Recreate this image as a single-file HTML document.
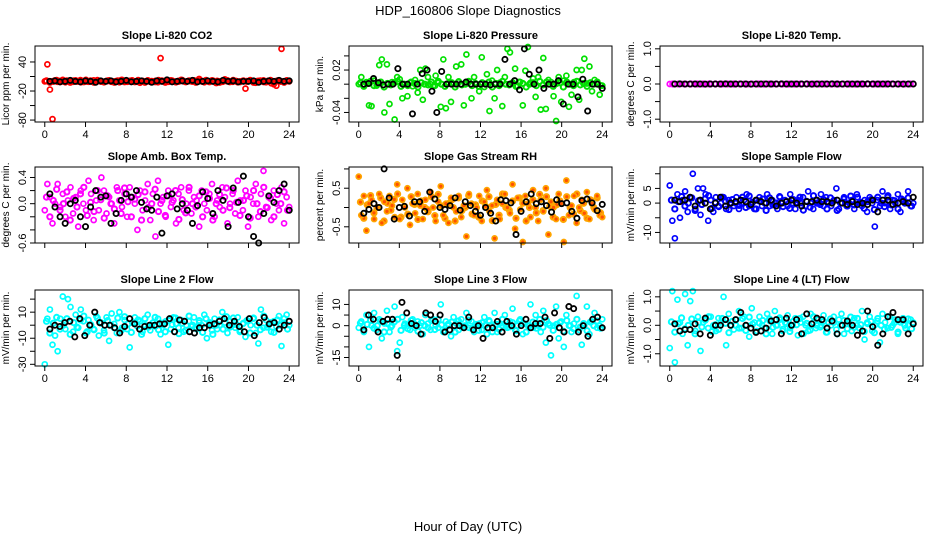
<!DOCTYPE html>
<html><head><meta charset="utf-8">
<style>
html,body{margin:0;padding:0;background:#fff;}
svg{display:block;font-family:"Liberation Sans",Arial,sans-serif;}
</style></head>
<body>
<svg id="chart" width="936" height="540" viewBox="0 0 936 540" xmlns="http://www.w3.org/2000/svg">
<rect width="936" height="540" fill="#fff"/>
<text x="468" y="15" text-anchor="middle" font-size="13">HDP_160806  Slope Diagnostics</text>
<text x="468" y="531" text-anchor="middle" font-size="13">Hour of Day (UTC)</text>
</svg>
<script>
const xTicks = [0,4,8,12,16,20,24];

const co2Red = [0,35,-17,-78,2,-1,1,3,-2,0,1,-1,2,0,-2,1,3,-1,0,2,-1,1,0,-2,1,2,-1,0,1,-2,3,0,-1,1,2,0,-1,-3,1,0,2,-1,0,1,-2,48,0,1,-1,2,0,-2,1,3,0,-1,1,0,2,-1,5,0,-2,1,0,2,-1,1,0,-1,4,2,0,-1,1,-2,0,1,-15,0,2,-1,-3,1,0,2,-2,1,-4,-6,-9,1,67,0,2,0];
const co2Band = [1,-2,0,2,-1,0,1,-2,1,0,2,-1,0,1,-2,2,0,-1,1,0,-2,1,2,-1,0,1,-1,2,0,-2,1,0,-1,2,1,-2,0,1,-1,0,2,-1,1,0,-2,1,0,2,-1,1,-3,-2,0,1,-1,2,0,-1,1,0,2,-2,0,1,-1,0,2,-1,1,0,-2,1];
const co2Black = [0,1,-1,0,2,0,-1,1,0,-2,1,0,1,-1,0,2,-1,0,1,0,-2,1,0,3,-1,0,1,0,2,-1,0,1,0,-1,2,0,1,-1,0,0,1,-2,0,1,0,2,0,1];

const presGreen = [0,0.01,-0.002,0.003,-0.03,-0.031,0.005,-0.002,0.027,0.035,-0.04,0.028,-0.028,0.003,-0.05,0.01,0.007,-0.02,0,-0.017,0.002,-0.003,0.006,-0.012,0.02,-0.022,0.022,0.01,0,-0.003,0.012,0.002,-0.032,0.035,-0.034,0.01,-0.025,0.0,0.025,0.004,0.028,-0.03,0.042,0.003,-0.02,0.01,0.0,-0.01,0.038,-0.004,0.014,-0.038,0.005,-0.02,0.02,0.002,-0.031,0.01,0.05,0.045,0.001,0.022,-0.003,0.003,-0.03,0.019,0.056,0.002,0.008,-0.018,0.01,-0.036,0.037,-0.035,0.006,0.003,-0.017,-0.062,0.01,-0.025,0.005,0.012,-0.032,-0.015,0.003,0.02,-0.022,0.02,0.036,0.001,0.025,-0.01,0.006,0.002,-0.015,-0.002];
const presBand = [0.002,-0.003,0.001,0.004,-0.002,0,0.003,-0.004,0.001,-0.001,0.002,0.004,-0.003,0,-0.002,0.003,0.001,-0.004,0.002,0,-0.001,0.003,-0.002,0.004,0,-0.003,0.001,0.002,-0.004,0.003,-0.001,0,0.004,-0.002,0.001,-0.003,0.002,0,0.003,-0.004,0.001,-0.002,0.004,0,-0.001,0.002,-0.003,0.003,0.001,-0.004,0,0.002,-0.002,0.004,-0.001,0.003,0,-0.003,0.001,0.002,-0.004,0.003,0,-0.002,0.004,-0.001,0.001,-0.003,0.002,0,0.003,-0.002];
const presBlack = [0,0.001,0.008,0.002,-0.001,0,0,0.022,0,0,-0.042,0.0,0.015,0.02,-0.01,-0.04,0.018,0.0,0,0.0,0,0.003,0,0.0,0,0.0,-0.001,0,0.0,0.035,0,0.005,-0.008,0.05,0.014,0,0.02,-0.006,0,0,0.005,-0.028,0.0,0,-0.018,0.007,-0.038,0.0,0,-0.006];

const tempMag = [0,0.005,-0.004,0.002,0,-0.003,0.004,0,0.002,-0.002,0,0.003,-0.001,0,0.002,-0.003,0,0.001,0.004,-0.002,0,0.002,-0.004,0,0.003,0,-0.002,0.001,0,0.004,-0.003,0,0.002,-0.001,0,0.003,-0.002,0,0.001,0.002,0,-0.004,0.003,0,-0.001,0.002,0,-0.003,0.004,0,0.001,-0.002,0,0.003,-0.001,0,0.002,-0.003,0,0.004];
const tempBand = [0,0.002,-0.002,0.001,0,-0.001,0.003,0,-0.002,0.001,0,0.002,-0.003,0,0.001,-0.001,0,0.002,0,-0.002,0.001,0,0.003,-0.001,0,0.002,-0.002,0,0.001,0,-0.003,0.002,0,-0.001,0.001,0,0.002,-0.002,0,0.001];
const tempBlack = [0,0.002,-0.001,0,0.001,0,-0.002,0,0.001,0,0.002,-0.001,0,0,0.001,-0.002,0,0.001,0,-0.001,0,0.002,0,-0.001,0,0.001,0,-0.002,0.001,0,0,0.002,-0.001,0,0.001,0,-0.001,0,0.002,0,-0.001,0,0.001,0,0,-0.002,0.001,0];

const ambMag = [-0.1,0.3,0.1,-0.3,0.0,0.3,-0.05,0.15,-0.2,0.05,0.25,-0.15,0.1,-0.35,0.2,0.0,-0.1,0.35,0.15,-0.25,0.05,-0.1,0.4,0.2,-0.15,0.1,0.0,-0.3,0.25,0.05,-0.05,0.15,-0.2,0.25,0.1,0.0,-0.4,0.2,-0.1,0.05,0.3,-0.25,0.15,-0.5,0.35,0.0,0.1,-0.2,0.2,-0.05,0.05,-0.3,0.15,0.25,-0.1,0.0,0.2,-0.15,0.1,0.05,-0.35,0.2,0.0,-0.1,0.15,0.3,-0.2,0.05,-0.05,0.25,0.1,-0.3,0.0,0.15,-0.15,0.35,0.05,-0.1,0.2,-0.35,0.1,0.0,0.3,-0.2,0.15,0.5,-0.05,0.1,-0.25,0.2,0.0,-0.1,0.25,-0.3,0.1,-0.05];
const ambBand = [0.1,-0.2,0.05,0.22,-0.1,0.0,0.18,-0.25,0.08,-0.05,0.15,0.25,-0.18,0.02,-0.12,0.2,0.06,-0.22,0.12,0.0,-0.08,0.2,-0.15,0.24,0.03,-0.2,0.07,0.14,-0.25,0.18,-0.06,0.0,0.22,-0.12,0.05,-0.18,0.12,0.02,0.2,-0.24,0.06,-0.14,0.25,0.0,-0.05,0.12,-0.2,0.18,0.08,-0.25,0.0,0.14,-0.1,0.24,-0.06,0.2,0.02,-0.18,0.05,0.12,-0.22,0.2,0.0,-0.12,0.25,-0.06,0.08,-0.2,0.14,0.0,0.18,-0.1];
const ambBlack = [0.15,-0.05,-0.2,-0.3,0.0,0.05,-0.2,-0.35,-0.05,0.2,0.1,0.12,-0.3,-0.15,0.05,0.15,0.1,0.2,0.02,-0.08,-0.1,0.1,-0.45,0.12,0.15,-0.08,0.0,-0.1,-0.3,-0.03,0.18,0.08,-0.15,0.2,0.05,-0.35,0.24,0.02,0.42,-0.2,-0.5,-0.6,-0.15,0.12,0.02,0.2,0.3,-0.1];

const rhOrange = [0.8,-0.2,0.3,-0.6,0.1,0.2,-0.3,0.0,0.35,-0.4,0.15,-0.1,0.3,0.05,-0.25,0.6,-0.3,0.2,0.0,0.5,-0.45,0.1,-0.15,0.35,0.05,-0.3,0.2,-0.05,0.4,0.0,-0.35,0.15,0.55,-0.2,0.1,-0.4,0.25,0.0,-0.1,0.3,-0.25,0.05,-0.75,0.35,0.1,-0.2,0.0,0.3,-0.35,0.15,0.45,-0.1,0.05,-0.8,0.2,-0.3,0.1,0.35,0.0,-0.15,0.6,-0.55,0.25,-0.05,-0.9,0.3,0.1,-0.25,0.45,0.0,-0.35,0.2,-0.1,0.5,-0.7,0.15,0.0,-0.3,0.35,0.1,-1.0,0.7,-0.2,0.05,0.3,-0.4,0.0,0.2,-0.15,0.4,-0.3,0.1,-0.05,0.3,-0.2,-0.25];
const rhBand = [0.14,-0.28,0.07,0.31,-0.14,0.0,0.25,-0.35,0.11,-0.07,0.21,0.35,-0.25,0.03,-0.17,0.28,0.08,-0.31,0.17,0.0,-0.11,0.28,-0.21,0.34,0.04,-0.28,0.1,0.2,-0.35,0.25,-0.08,0.0,0.31,-0.17,0.07,-0.25,0.17,0.03,0.28,-0.34,0.08,-0.2,0.35,0.0,-0.07,0.17,-0.28,0.25,0.11,-0.35,0.0,0.2,-0.14,0.34,-0.08,0.28,0.03,-0.25,0.07,0.17,-0.31,0.28,0.0,-0.17,0.35,-0.08,0.11,-0.28,0.2,0.0,0.25,-0.14];
const rhBlack = [-0.15,-0.05,0.1,0.0,1.0,0.25,-0.3,0.0,0.03,-0.22,0.15,0.15,-0.1,0.4,0.22,0.0,-0.05,0.05,0.25,-0.07,0.15,0.05,-0.1,-0.2,0.0,-0.15,-0.35,0.2,0.18,0.12,-0.7,-0.1,0.15,0.35,0.1,0.15,0.05,-0.12,0.2,0.1,0.12,-0.1,-0.28,0.18,0.22,0.12,-0.08,0.08];

const sampBlue = [6,-6,-12,3,-5,1,4,-3,2,10,-2,5,-4,5,3,-6,1,-3,2,-1,0,2,-2,1,0,-1,2,-2,0,1,3,-1,0,-2,1,2,-1,0,3,-1,1,0,-2,2,0,1,-1,3,0,-2,1,0,2,-1,4,0,-2,1,0,3,-1,2,0,-1,1,5,-2,0,2,-1,0,1,-2,3,0,-1,1,-3,2,0,-8,1,-1,4,0,2,-2,1,0,3,-3,1,0,4,-1,0];
const sampBand = [1,-2,0.5,2.2,-1,0,1.8,-2.5,0.8,-0.5,1.5,2.5,-1.8,0.2,-1.2,2,0.6,-2.2,1.2,0,-0.8,2,-1.5,2.4,0.3,-2,0.7,1.4,-2.5,1.8,-0.6,0,2.2,-1.2,0.5,-1.8,1.2,0.2,2,-2.4,0.6,-1.4,2.5,0,-0.5,1.2,-2,1.8,0.8,-2.5,0,1.4,-1,2.4,-0.6,2,0.2,-1.8,0.5,1.2,-2.2,2,0,-1.2,2.5,-0.6,0.8,-2,1.4,0,1.8,-1];
const sampBlack = [1,0.5,1,2,-1,1,0,-2,0,2,-1,0,0.5,1,0.5,-0.5,1,0.5,0,1,-1,0,0.5,1,0,-1,0.5,0.5,1,0.5,0.5,0,1,0,-0.5,0.5,-0.5,0,-0.5,1,-3,1,1,-0.5,0,0.5,0,2];

const l2Cyan = [-30,5,12,-15,-8,-20,5,22,-3,20,14,-5,8,-2,12,3,-6,4,0,-3,7,-8,2,-4,6,-12,9,1,-6,10,-2,4,-3,-17,2,6,-1,3,-5,0,8,-4,2,-1,5,-7,0,3,-15,-3,6,1,-2,4,-5,0,3,-1,6,-3,2,0,8,-10,1,-4,5,-3,0,10,2,-6,3,0,-2,6,-4,1,-9,3,0,5,-6,-14,12,-2,4,0,-5,3,-1,7,-16,2,8,0];
const l2Band = [3,-6,1.5,6,-3,0,5,-7,2,-1.5,4,7,-5,0.5,-3.5,5.5,1.5,-6,3.5,0,-2,5.5,-4,6.5,1,-5.5,2,4,-7,5,-1.5,0,6,-3.5,1.5,-5,3.5,0.5,5.5,-6.5,1.5,-4,7,0,-1.5,3.5,-5.5,5,2,-7,0,4,-3,6.5,-1.5,5.5,0.5,-5,1.5,3.5,-6,5.5,0,-3.5,7,-1.5,2,-5.5,4,0,5,-3];
const l2Black = [-3,0,-1,2,3,-9,5,-8,0,10,2,0,0,-2,-6,-1,5,1,-3,-1,0,0,1,1,5,-5,4,3,-5,-6,-2,-2,0,1,3,5,0,3,-1,-5,5,-8,2,6,1,2,-3,0,3];

const l3Cyan = [-1,2,-3,5,-10,0,6,-2,3,-6,1,7,-3,0,9,-12,-8,4,1,0,-2,3,-1,2,0,-4,5,1,-2,3,0,-1,10,-3,2,0,-5,4,1,-2,3,0,6,-1,2,-3,0,1,-2,4,-4,2,0,6,-3,1,0,5,-1,2,8,-2,0,3,-4,1,0,10,-1,5,0,-3,7,-8,1,-14,0,9,-6,2,-10,5,0,-3,1,14,-2,-9,0,9,-4,2,6,-1,0,3];
const l3Band = [1.2,-2.4,0.6,2.6,-1.2,0,2.2,-3,1,-0.6,1.8,3,-2.2,0.2,-1.4,2.4,0.7,-2.6,1.4,0,-1,2.4,-1.8,2.9,0.4,-2.4,0.8,1.7,-3,2.2,-0.7,0,2.6,-1.4,0.6,-2.2,1.4,0.2,2.4,-2.9,0.7,-1.7,3,0,-0.6,1.4,-2.4,2.2,1,-3,0,1.7,-1.2,2.9,-0.7,2.4,0.2,-2.2,0.6,1.4,-2.6,2.4,0,-1.4,3,-0.7,1,-2.4,1.7,0,2.2,-1.2];
const l3Black = [-2,5,3,-3,2,3,3,-14,11,6,1,0,-4,6,5,2,5,-3,-2,0,0,-1,4,-2,0,-6,-1,-1,2,-3,2,0,-4,0,3,-1,1,1,4,-6,6,-1,-3,9,8,-3,0,-5,3,4,-1];

const l4Cyan = [-0.8,1.2,-1.3,0.9,0.1,-0.3,1.1,-0.7,0.85,1.2,-0.2,0.3,-0.9,0.1,0.2,-0.1,0.3,0.0,-0.2,0.25,0.1,1.0,-0.7,0.4,0.0,-0.15,0.2,0.5,-0.1,0.3,0.0,-0.4,0.6,0.1,-0.2,0.3,0.0,-0.1,0.4,0.15,-0.3,0.5,0.0,0.2,-0.2,0.1,0.35,-0.1,0.0,0.25,-0.35,0.1,0.3,0.0,-0.2,0.4,0.1,-0.1,0.2,0.0,0.35,-0.25,0.1,0.0,0.3,-0.15,0.2,0.4,-0.3,0.05,0.1,-0.2,0.25,0.0,-0.1,0.5,-0.5,0.1,0.3,-0.2,0.0,0.15,-0.6,0.4,0.1,-0.1,0.3,0.0,0.2,-0.3,0.1,0.25,-0.1,0.0,0.2,0.1];
const l4Band = [0.12,-0.24,0.06,0.26,-0.12,0,0.22,-0.3,0.1,-0.06,0.18,0.3,-0.22,0.02,-0.14,0.24,0.07,-0.26,0.14,0,-0.1,0.24,-0.18,0.29,0.04,-0.24,0.08,0.17,-0.3,0.22,-0.07,0,0.26,-0.14,0.06,-0.22,0.14,0.02,0.24,-0.29,0.07,-0.17,0.3,0,-0.06,0.14,-0.24,0.22,0.1,-0.3,0,0.17,-0.12,0.29,-0.07,0.24,0.02,-0.22,0.06,0.14,-0.26,0.24,0,-0.14,0.3,-0.07,0.1,-0.24,0.17,0,0.22,-0.12];
const l4Black = [0.05,-0.2,-0.15,-0.15,0.05,-0.3,0.25,-0.35,0.0,0.0,0.2,0.0,0.2,0.45,0.0,-0.1,-0.25,-0.2,-0.1,0.15,0.2,-0.3,0.25,0.0,0.2,-0.3,0.4,0.05,0.25,0.2,-0.1,0.15,-0.3,0.0,0.15,0.0,-0.35,-0.2,0.5,-0.05,-0.7,-0.3,0.3,0.45,0.2,0.2,-0.3,0.05];

const panelTitles = ["Slope Li-820 CO2","Slope Li-820 Pressure","Slope Li-820 Temp.","Slope Amb. Box Temp.","Slope Gas Stream RH","Slope Sample Flow","Slope Line 2 Flow","Slope Line 3 Flow","Slope Line 4 (LT) Flow"];
const yLabels = ["Licor ppm per min.","kPa per min.","degrees C per min.","degrees C per min.","percent per min.","mV/min per min.","mV/min per min.","mV/min per min.","mV/min per min."];
const yTicks = [[-80,-50,-20,10,40],[-0.04,-0.02,0,0.02,0.04],[-1,-0.5,0,0.5,1],[-0.6,-0.4,-0.2,0,0.2,0.4],[-0.5,0,0.5,1],[-10,-5,0,5,10],[-30,-20,-10,0,10,20],[-15,-10,-5,0,5,10],[-1,-0.5,0,0.5,1]];
const yTickLabels = [["-80","","-20","","40"],["-0.04","","","0.02",""],["-1.0","","0.0","","1.0"],["-0.6","","","0.0","","0.4"],["-0.5","","0.5",""],["-10","","0","5",""],["-30","","-10","","10",""],["-15","","","0","","10"],["-1.0","","0.0","","1.0"]];
const yMin = [-84,-0.0535,-1.08,-0.6,-0.92,-13.6,-31.3,-19,-1.43];
const yMax = [73,0.054,1.08,0.56,1.05,12.3,27,16.8,1.24];
const colorSeries = [co2Red,presGreen,tempMag,ambMag,rhOrange,sampBlue,l2Cyan,l3Cyan,l4Cyan];
const bandSeries = [co2Band,presBand,tempBand,ambBand,rhBand,sampBand,l2Band,l3Band,l4Band];
const blackSeries = [co2Black,presBlack,tempBlack,ambBlack,rhBlack,sampBlack,l2Black,l3Black,l4Black];
const seriesColors = ["#ff0000","#00e000","#ff00ff","#ff00ff","#ffa500","#0000ff","#00ffff","#00ffff","#00ffff"];
const bandFill = ["none","none","none","none","#ff5000","none","none","none","none"];

const NS = "http://www.w3.org/2000/svg";
const svg = document.getElementById('chart');
const colLeft = [35,349,660], colW = [264,263,263], rowTop = [46,167,290], boxH = 76;
const X0 = -0.96, X1 = 24.96;
function mk(tag, attrs, parent){ const e = document.createElementNS(NS, tag); for (const k in attrs) e.setAttribute(k, attrs[k]); (parent||svg).appendChild(e); return e; }

for (let p = 0; p < 9; p++) {
  const r = Math.floor(p/3), c = p%3;
  const L = colLeft[c], T = rowTop[r], W = colW[c], H = boxH;
  const xs = v => L + (v - X0) / (X1 - X0) * W;
  const ys = v => T + H - (v - yMin[p]) / (yMax[p] - yMin[p]) * H;
  const clampY = v => Math.max(T+1, Math.min(T+H-1, ys(v)));
  const g = mk('g', {});
  
  
  const t = mk('text', {x: L + W/2, y: T - 7, 'text-anchor':'middle', 'font-size':11, 'font-weight':'bold'}, g);
  t.textContent = panelTitles[p];
  
  
  // dense band points
  const bd = bandSeries[p];
  const bdg = mk('g', {fill: bandFill[p], stroke: seriesColors[p], 'stroke-width':2}, g);
  
  
  bd.forEach((v,i) => {
    const pt = mk('circle', {cx: xs((i+0.5)*24/bd.length), cy: clampY(v), r: 2.6}, bdg);
    
    
  });
  // scattered points
  const cs = colorSeries[p];
  const pg = mk('g', {fill: bandFill[p], stroke: seriesColors[p], 'stroke-width':1.7}, g);
  
  
  cs.forEach((v,i) => {
    const pt = mk('circle', {cx: xs(i*24/(cs.length-1)), cy: clampY(v), r: 2.5}, pg);
    
    
  });
  const bs = blackSeries[p];
  const bg = mk('g', {fill:'none', stroke:'#000', 'stroke-width':1.8}, g);
  
  
  bs.forEach((v,i) => {
    const pt = mk('circle', {cx: xs(0.5 + i*23.5/(bs.length-1)), cy: ys(v), r: 2.6}, bg);
    
    
  });
  const box = mk('rect', {x: L, y: T, width: W, height: H, fill:'none', stroke:'#000', 'stroke-width':1}, g);
  
  
  const ax = mk('g', {stroke:'#000', 'stroke-width':1}, g);
  
  
  mk('line', {x1: xs(0), x2: xs(24), y1: T+H, y2: T+H}, ax);
  xTicks.forEach(tk => {
    mk('line', {x1: xs(tk), x2: xs(tk), y1: T+H, y2: T+H+5}, ax);
    if (r !== 1) {
      const lb = mk('text', {x: xs(tk), y: T+H+16, 'text-anchor':'middle', 'font-size':11, stroke:'none'}, ax);
      lb.textContent = tk;
      
      
    }
  });
  const ay = mk('g', {stroke:'#000', 'stroke-width':1}, g);
  
  
  const tks = yTicks[p].filter(v => v >= yMin[p] && v <= yMax[p]);
  mk('line', {x1: L, x2: L, y1: ys(tks[0]), y2: ys(tks[tks.length-1])}, ay);
  yTicks[p].forEach((tk, k) => {
    if (tk < yMin[p] || tk > yMax[p]) return;
    mk('line', {x1: L-5, x2: L, y1: ys(tk), y2: ys(tk)}, ay);
    const s = yTickLabels[p][k];
    if (s) {
      const lb = mk('text', {x: L-9, y: ys(tk), 'text-anchor':'middle', 'font-size':11, stroke:'none', transform:`rotate(-90 ${L-9} ${ys(tk)})`}, ay);
      lb.textContent = s;
      
      
    }
  });
  const yl = mk('text', {x: L-26, y: T+H/2, 'text-anchor':'middle', 'font-size':10, transform:`rotate(-90 ${L-26} ${T+H/2})`}, g);
  yl.textContent = yLabels[p];
  
  
}
</script>
</body></html>
